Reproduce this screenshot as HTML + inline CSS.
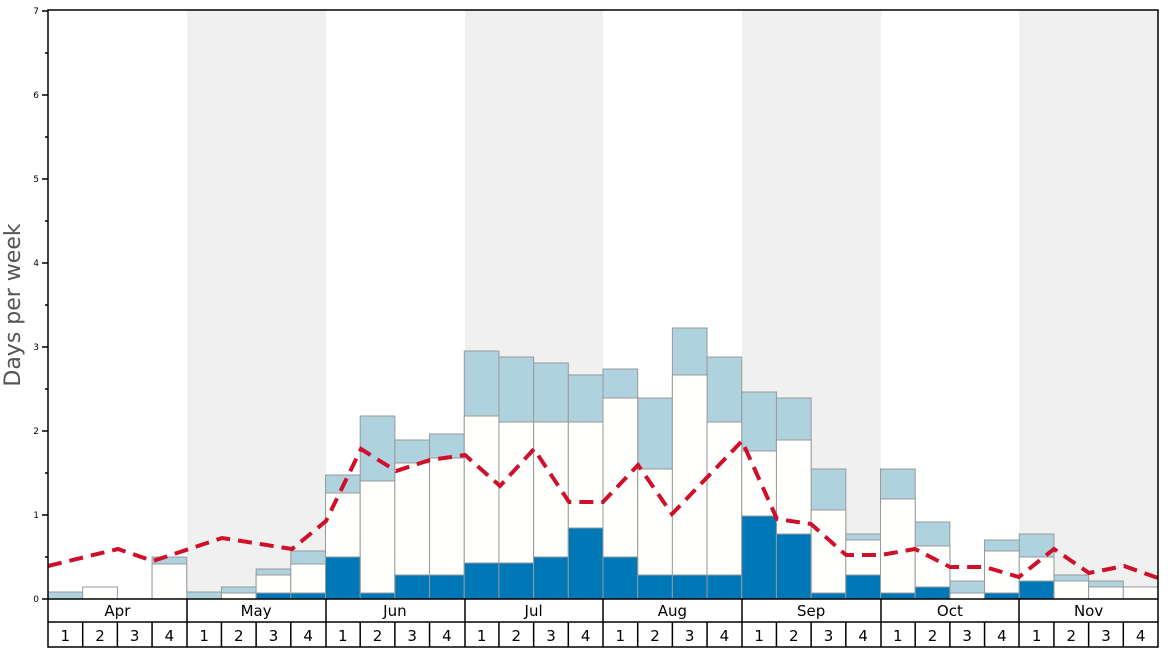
<!DOCTYPE html>
<html><head><meta charset="utf-8"><style>html,body{margin:0;padding:0;background:#fff}svg{display:block}</style></head>
<body>
<svg width="1168" height="648" xmlns="http://www.w3.org/2000/svg" font-family="DejaVu Sans, Liberation Sans, sans-serif">
<rect x="187" y="10" width="139" height="589" fill="#f0f0f0"/>
<rect x="465" y="10" width="138" height="589" fill="#f0f0f0"/>
<rect x="742" y="10" width="139" height="589" fill="#f0f0f0"/>
<rect x="1019" y="10" width="139" height="589" fill="#f0f0f0"/>
<g stroke="#999" stroke-width="1">
<g fill="#aed3df">
<rect x="48" y="592" width="34.69" height="7"/>
<rect x="152.06" y="557" width="34.69" height="42"/>
<rect x="186.75" y="592" width="34.69" height="7"/>
<rect x="221.44" y="587" width="34.69" height="12"/>
<rect x="256.13" y="569" width="34.69" height="30"/>
<rect x="290.81" y="551" width="34.69" height="48"/>
<rect x="325.5" y="475" width="34.69" height="124"/>
<rect x="360.19" y="416" width="34.69" height="183"/>
<rect x="394.88" y="440" width="34.69" height="159"/>
<rect x="429.56" y="434" width="34.69" height="165"/>
<rect x="464.25" y="351" width="34.69" height="248"/>
<rect x="498.94" y="357" width="34.69" height="242"/>
<rect x="533.63" y="363" width="34.69" height="236"/>
<rect x="568.31" y="375" width="34.69" height="224"/>
<rect x="603" y="369" width="34.69" height="230"/>
<rect x="637.69" y="398" width="34.69" height="201"/>
<rect x="672.38" y="328" width="34.69" height="271"/>
<rect x="707.06" y="357" width="34.69" height="242"/>
<rect x="741.75" y="392" width="34.69" height="207"/>
<rect x="776.44" y="398" width="34.69" height="201"/>
<rect x="811.13" y="469" width="34.69" height="130"/>
<rect x="845.81" y="534" width="34.69" height="65"/>
<rect x="880.5" y="469" width="34.69" height="130"/>
<rect x="915.19" y="522" width="34.69" height="77"/>
<rect x="949.88" y="581" width="34.69" height="18"/>
<rect x="984.56" y="540" width="34.69" height="59"/>
<rect x="1019.25" y="534" width="34.69" height="65"/>
<rect x="1053.94" y="575" width="34.69" height="24"/>
<rect x="1088.63" y="581" width="34.69" height="18"/>
</g>
<g fill="#fffffd">
<rect x="82.69" y="587" width="34.69" height="12"/>
<rect x="152.06" y="564" width="34.69" height="35"/>
<rect x="221.44" y="593" width="34.69" height="6"/>
<rect x="256.13" y="575" width="34.69" height="24"/>
<rect x="290.81" y="564" width="34.69" height="35"/>
<rect x="325.5" y="493" width="34.69" height="106"/>
<rect x="360.19" y="481" width="34.69" height="118"/>
<rect x="394.88" y="463" width="34.69" height="136"/>
<rect x="429.56" y="458" width="34.69" height="141"/>
<rect x="464.25" y="416" width="34.69" height="183"/>
<rect x="498.94" y="422" width="34.69" height="177"/>
<rect x="533.63" y="422" width="34.69" height="177"/>
<rect x="568.31" y="422" width="34.69" height="177"/>
<rect x="603" y="398" width="34.69" height="201"/>
<rect x="637.69" y="469" width="34.69" height="130"/>
<rect x="672.38" y="375" width="34.69" height="224"/>
<rect x="707.06" y="422" width="34.69" height="177"/>
<rect x="741.75" y="451" width="34.69" height="148"/>
<rect x="776.44" y="440" width="34.69" height="159"/>
<rect x="811.13" y="510" width="34.69" height="89"/>
<rect x="845.81" y="540" width="34.69" height="59"/>
<rect x="880.5" y="499" width="34.69" height="100"/>
<rect x="915.19" y="546" width="34.69" height="53"/>
<rect x="949.88" y="593" width="34.69" height="6"/>
<rect x="984.56" y="551" width="34.69" height="48"/>
<rect x="1019.25" y="557" width="34.69" height="42"/>
<rect x="1053.94" y="581" width="34.69" height="18"/>
<rect x="1088.63" y="587" width="34.69" height="12"/>
<rect x="1123.31" y="587" width="34.69" height="12"/>
</g>
<g fill="#0077b6">
<rect x="256.13" y="593" width="34.69" height="6"/>
<rect x="290.81" y="593" width="34.69" height="6"/>
<rect x="325.5" y="557" width="34.69" height="42"/>
<rect x="360.19" y="593" width="34.69" height="6"/>
<rect x="394.88" y="575" width="34.69" height="24"/>
<rect x="429.56" y="575" width="34.69" height="24"/>
<rect x="464.25" y="563" width="34.69" height="36"/>
<rect x="498.94" y="563" width="34.69" height="36"/>
<rect x="533.63" y="557" width="34.69" height="42"/>
<rect x="568.31" y="528" width="34.69" height="71"/>
<rect x="603" y="557" width="34.69" height="42"/>
<rect x="637.69" y="575" width="34.69" height="24"/>
<rect x="672.38" y="575" width="34.69" height="24"/>
<rect x="707.06" y="575" width="34.69" height="24"/>
<rect x="741.75" y="516" width="34.69" height="83"/>
<rect x="776.44" y="534" width="34.69" height="65"/>
<rect x="811.13" y="593" width="34.69" height="6"/>
<rect x="845.81" y="575" width="34.69" height="24"/>
<rect x="880.5" y="593" width="34.69" height="6"/>
<rect x="915.19" y="587" width="34.69" height="12"/>
<rect x="984.56" y="593" width="34.69" height="6"/>
<rect x="1019.25" y="581" width="34.69" height="18"/>
</g>
</g>
<polyline fill="none" stroke="#d0102a" stroke-width="4" stroke-dasharray="14,8" points="48,566 118,549 153,561 222,538 292,549 326,521 361,449 396,471 430,460 465,455 500,486 534,449 569,502 603,502 638,465 672,514 742,441 777,519 811,524 846,555 881,555 915,549 950,567 985,567 1019,577 1054,549 1089,573 1124,566 1158,578"/>
<g stroke="#000" stroke-width="1.5" fill="none">
<rect x="48" y="10" width="1110" height="637"/>
<line x1="48" y1="599" x2="1158" y2="599"/>
<line x1="48" y1="622" x2="1158" y2="622"/>
<path d="M42 599H48M42 515H48M42 431H48M42 347H48M42 263H48M42 179H48M42 95H48M42 11H48M45 557H48M45 473H48M45 389H48M45 305H48M45 221H48M45 137H48M45 53H48"/>
<path d="M187 599V647M326 599V647M465 599V647M603 599V647M742 599V647M881 599V647M1019 599V647"/>
<path d="M82.69 622V647M117.38 622V647M152.06 622V647M221.44 622V647M256.13 622V647M290.81 622V647M360.19 622V647M394.88 622V647M429.56 622V647M498.94 622V647M533.63 622V647M568.31 622V647M637.69 622V647M672.38 622V647M707.06 622V647M776.44 622V647M811.13 622V647M845.81 622V647M915.19 622V647M949.88 622V647M984.56 622V647M1053.94 622V647M1088.63 622V647M1123.31 622V647"/>
</g>
<g font-size="9" text-anchor="end">
<text x="39" y="602">0</text><text x="39" y="518">1</text><text x="39" y="434">2</text><text x="39" y="350">3</text><text x="39" y="266">4</text><text x="39" y="182">5</text><text x="39" y="98">6</text><text x="39" y="14">7</text>
</g>
<text x="20" y="305" font-size="22" fill="#555" text-anchor="middle" transform="rotate(-90 20 305)">Days per week</text>
<g font-size="15" text-anchor="middle">
<text x="117.4" y="616">Apr</text><text x="256.1" y="616">May</text><text x="394.9" y="616">Jun</text><text x="533.6" y="616">Jul</text><text x="672.4" y="616">Aug</text><text x="811.1" y="616">Sep</text><text x="949.9" y="616">Oct</text><text x="1088.6" y="616">Nov</text>
<text x="65.3" y="641">1</text><text x="100" y="641">2</text><text x="134.7" y="641">3</text><text x="169.4" y="641">4</text>
<text x="204.1" y="641">1</text><text x="238.8" y="641">2</text><text x="273.5" y="641">3</text><text x="308.2" y="641">4</text>
<text x="342.8" y="641">1</text><text x="377.5" y="641">2</text><text x="412.2" y="641">3</text><text x="446.9" y="641">4</text>
<text x="481.6" y="641">1</text><text x="516.3" y="641">2</text><text x="551" y="641">3</text><text x="585.7" y="641">4</text>
<text x="620.3" y="641">1</text><text x="655" y="641">2</text><text x="689.7" y="641">3</text><text x="724.4" y="641">4</text>
<text x="759.1" y="641">1</text><text x="793.8" y="641">2</text><text x="828.5" y="641">3</text><text x="863.2" y="641">4</text>
<text x="897.8" y="641">1</text><text x="932.5" y="641">2</text><text x="967.2" y="641">3</text><text x="1001.9" y="641">4</text>
<text x="1036.6" y="641">1</text><text x="1071.3" y="641">2</text><text x="1106" y="641">3</text><text x="1140.7" y="641">4</text>
</g>
</svg>
</body></html>
